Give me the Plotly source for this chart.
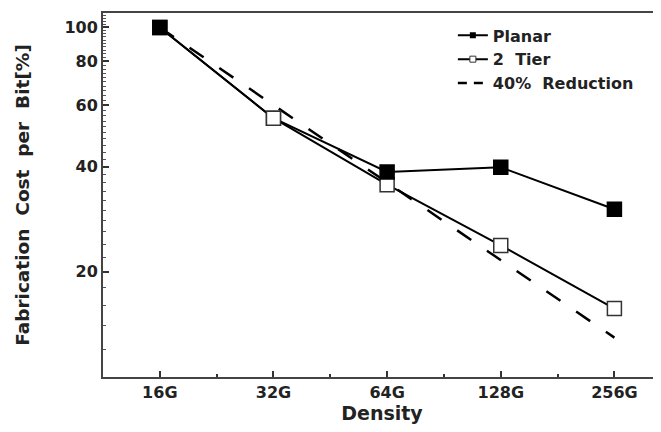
import plotly.graph_objects as go

categories = ["16G", "32G", "64G", "128G", "256G"]
planar = [100, 55, 38.6, 39.8, 30.2]
two_tier = [100, 55, 35.5, 23.8, 15.7]
reduction_40 = [100, 60, 36, 21.6, 12.96]
y_major = [20, 40, 60, 80, 100]
y_minor = [v for v in range(12, 111, 2) if v not in (20, 40, 60, 80, 100)]

xpos = list(range(len(categories)))
FONT = "DejaVu Sans"

fig = go.Figure()
fig.add_trace(go.Scatter(x=xpos, y=reduction_40, mode="lines", showlegend=False,
                         line=dict(color="black", width=2.5, dash="17px,19px")))
fig.add_trace(go.Scatter(x=xpos, y=two_tier, mode="lines+markers", showlegend=False,
                         line=dict(color="black", width=2),
                         marker=dict(symbol="square", size=14, color="white",
                                     line=dict(color="#333", width=1.5))))
# Planar drawn on top; where it coincides with 2 Tier at 32G the reference shows the hollow mark
fig.add_trace(go.Scatter(x=xpos, y=planar, mode="lines+markers", showlegend=False,
                         line=dict(color="black", width=2),
                         marker=dict(symbol="square", size=14,
                                     color=["black", "white", "black", "black", "black"],
                                     line=dict(color=["black", "#333", "black", "black", "black"],
                                               width=1.5))))
# legend entries
fig.add_trace(go.Scatter(x=[None], y=[None], mode="lines+markers", name="Planar",
                         line=dict(color="black", width=2),
                         marker=dict(symbol="square", size=6, color="black")))
fig.add_trace(go.Scatter(x=[None], y=[None], mode="lines+markers", name="2\u00a0 Tier",
                         line=dict(color="black", width=2),
                         marker=dict(symbol="square", size=6, color="white",
                                     line=dict(color="#333", width=1))))
fig.add_trace(go.Scatter(x=[None], y=[None], mode="lines", name="40%\u00a0 Reduction",
                         line=dict(color="black", width=2.5, dash="9px,7px")))

# page body has an 8px margin; figure is sized so the plot lands where the reference has it
fig.update_layout(
    width=653, height=424,
    margin=dict(l=95, r=0, t=5, b=55, autoexpand=False),
    paper_bgcolor="white", plot_bgcolor="white",
    font=dict(family=FONT, color="#222", size=16, weight="bold"),
    legend=dict(x=0.627, y=0.985, xanchor="left", yanchor="top",
                bgcolor="rgba(0,0,0,0)", font=dict(size=16, family=FONT, weight="bold"),
                tracegroupgap=0, itemwidth=30),
    xaxis=dict(
        range=[-0.5, 4.41], tickmode="array", tickvals=xpos, ticktext=categories,
        ticks="inside", ticklen=6, tickwidth=1.5, tickcolor="#333",
        showline=True, linecolor="#444", linewidth=2, mirror=True,
        showgrid=False, zeroline=False, automargin=False,
        minor=dict(tickvals=[0.5, 1.5, 2.5, 3.5], ticks="inside", ticklen=3,
                   tickcolor="#333", tickwidth=1.5, showgrid=False),
        tickfont=dict(size=16, family=FONT, weight="bold"),
        title=dict(text="Density", font=dict(size=19, family=FONT, weight="bold"),
                   standoff=4),
    ),
    yaxis=dict(
        type="log", range=[1, 2.0414],
        tickmode="array", tickvals=y_major, ticktext=[str(v) for v in y_major],
        ticks="inside", ticklen=6, tickwidth=1.5, tickcolor="#333",
        showline=True, linecolor="#444", linewidth=2, mirror=False,
        showgrid=False, zeroline=False, automargin=False,
        minor=dict(tickvals=y_minor, ticks="inside", ticklen=3,
                   tickcolor="#555", tickwidth=1, showgrid=False),
        tickfont=dict(size=16, family=FONT, weight="bold"),
        title=dict(text="Fabrication\u00a0 Cost\u00a0 per\u00a0 Bit[%]",
                   font=dict(size=18.5, family=FONT, weight="bold"), standoff=30),
    ),
)

fig.write_html("out.html")
